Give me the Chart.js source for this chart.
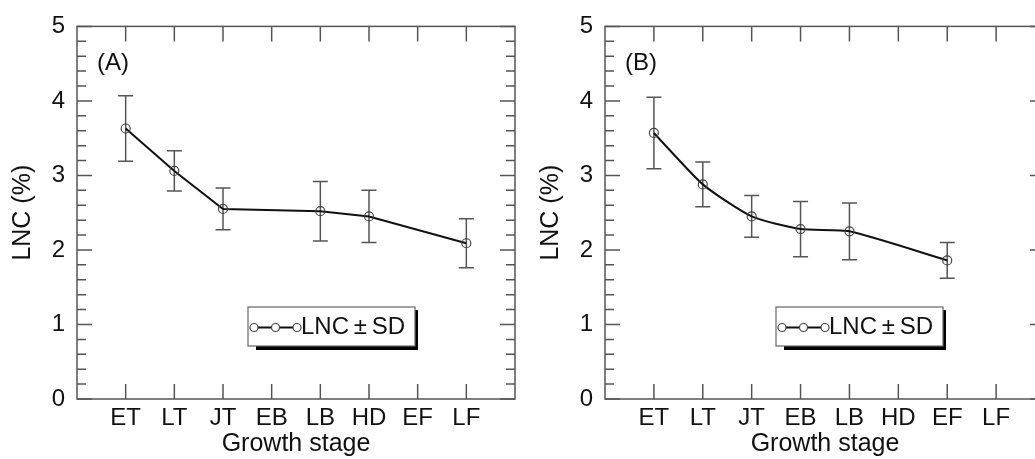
<!DOCTYPE html>
<html>
<head>
<meta charset="utf-8">
<script src="https://cdn.jsdelivr.net/npm/chart.js@4.4.1/dist/chart.umd.min.js"></script>
<style>
  html, body { margin:0; padding:0; background:#fff; overflow:hidden; width:1035px; height:459px; }
  .panel { position:absolute; top:0; height:459px; width:530px; }
  #pa { left:0; }
  #pb { left:528px; }
</style>
</head>
<body>
<div class="panel" id="pa"><canvas id="chartA"></canvas></div>
<div class="panel" id="pb"><canvas id="chartB"></canvas></div>
<script>
  // growth stages on the x axis
  const stages = ["ET", "LT", "JT", "EB", "LB", "HD", "EF", "LF"];
  const yTicks = [0, 1, 2, 3, 4, 5];

  // panel (A)
  const lncA = [3.63, 3.06, 2.55, null, 2.52, 2.45, null, 2.09];
  const sdA  = [0.44, 0.27, 0.28, null, 0.40, 0.35, null, 0.33];

  // panel (B)
  const lncB = [3.57, 2.88, 2.45, 2.28, 2.25, null, 1.86, null];
  const sdB  = [0.48, 0.30, 0.28, 0.37, 0.38, null, 0.24, null];

  const FONT = "'Liberation Sans', Arial, Helvetica, sans-serif";
  const LINE_GRAY = "#555";

  function toPoints(vals){
    const pts = [];
    vals.forEach((v, i) => { if(v != null) pts.push({ x: i + 1, y: v }); });
    return pts;
  }

  const panelPlugin = {
    id: "panel",
    beforeDatasetsDraw(chart, args, opts){
      const { ctx, scales: { x, y } } = chart;
      ctx.save();
      ctx.strokeStyle = LINE_GRAY;
      ctx.lineWidth = 1.5;
      opts.vals.forEach((v, i) => {
        if(v == null) return;
        const px = x.getPixelForValue(i + 1);
        const top = y.getPixelForValue(v + opts.sd[i]);
        const bot = y.getPixelForValue(v - opts.sd[i]);
        ctx.beginPath();
        ctx.moveTo(px, top); ctx.lineTo(px, bot);
        ctx.moveTo(px - 7.5, top); ctx.lineTo(px + 7.5, top);
        ctx.moveTo(px - 7.5, bot); ctx.lineTo(px + 7.5, bot);
        ctx.stroke();
      });
      ctx.restore();
    },
    afterDraw(chart, args, opts){
      const { ctx, chartArea: a, scales: { x, y } } = chart;
      ctx.save();
      ctx.strokeStyle = LINE_GRAY;
      ctx.lineWidth = 1.5;

      // frame
      ctx.strokeRect(a.left, a.top, a.right - a.left, a.bottom - a.top);

      // inward ticks (minor every 0.2)
      ctx.beginPath();
      for(let k = 0; k <= 25; k++){
        const py = y.getPixelForValue(k / 5);
        const len = (k % 5 === 0) ? 15 : 9;
        ctx.moveTo(a.left, py); ctx.lineTo(a.left + len, py);
        ctx.moveTo(a.right, py); ctx.lineTo(a.right - len, py);
      }
      stages.forEach((s, i) => {
        const px = x.getPixelForValue(i + 1);
        ctx.moveTo(px, a.bottom); ctx.lineTo(px, a.bottom - 15);
        ctx.moveTo(px, a.top); ctx.lineTo(px, a.top + 15);
      });
      ctx.stroke();

      // panel letter
      ctx.fillStyle = "#111";
      ctx.font = "24px " + FONT;
      ctx.textAlign = "left";
      ctx.textBaseline = "middle";
      ctx.fillText(opts.label, a.left + 20, 63);

      // legend box with shadow
      const bx = a.left + 171, by = 307, bw = 167, bh = 39;
      ctx.fillStyle = "#000";
      ctx.fillRect(bx + 8, by + 3, bw - 5, bh + 1);
      ctx.fillStyle = "#fff";
      ctx.fillRect(bx, by, bw, bh);
      ctx.strokeStyle = "#666";
      ctx.lineWidth = 1.2;
      ctx.strokeRect(bx, by, bw, bh);

      const cy = by + bh / 2 + 1;
      ctx.strokeStyle = "#111";
      ctx.lineWidth = 2;
      ctx.beginPath();
      ctx.moveTo(bx + 6, cy); ctx.lineTo(bx + 49, cy);
      ctx.stroke();
      ctx.strokeStyle = "#444";
      ctx.lineWidth = 1.2;
      [bx + 6, bx + 27.5, bx + 49].forEach(cx => {
        ctx.beginPath();
        ctx.arc(cx, cy, 4, 0, Math.PI * 2);
        ctx.fillStyle = "#fff";
        ctx.fill();
        ctx.stroke();
      });
      ctx.fillStyle = "#111";
      ctx.font = "24px " + FONT;
      ctx.textBaseline = "middle";
      ctx.fillText("LNC\u2009\u00B1\u2009SD", bx + 53, cy);

      ctx.restore();
    }
  };

  function makePanel(canvasId, vals, sd, label, rightPad, tension){
    return new Chart(document.getElementById(canvasId), {
      type: "line",
      data: {
        datasets: [{
          data: toPoints(vals),
          borderColor: "#111",
          borderWidth: 2,
          tension: tension,
          pointRadius: 4.5,
          pointBorderColor: "#444",
          pointBorderWidth: 1.2,
          pointBackgroundColor: "rgba(0,0,0,0)"
        }]
      },
      options: {
        responsive: true,
        maintainAspectRatio: false,
        animation: false,
        layout: { padding: { top: 20, right: rightPad, left: 0, bottom: 0 } },
        plugins: {
          legend: { display: false },
          tooltip: { enabled: false },
          panel: { vals, sd, label }
        },
        scales: {
          x: {
            type: "linear",
            min: 0, max: 9,
            grid: { display: false, drawTicks: false },
            border: { display: false },
            afterBuildTicks(scale){ scale.ticks = stages.map((s, i) => ({ value: i + 1 })); },
            afterFit(scale){ scale.height = 60; },
            ticks: {
              autoSkip: false, maxRotation: 0, padding: 5,
              color: "#111", font: { family: FONT, size: 24 },
              callback: v => stages[v - 1] || ""
            },
            title: {
              display: true, text: "Growth stage", color: "#111",
              font: { family: FONT, size: 25 }, padding: { top: 0, bottom: 0 }
            }
          },
          y: {
            type: "linear",
            min: 0, max: 5,
            grid: { display: false, drawTicks: false },
            border: { display: false },
            afterBuildTicks(scale){ scale.ticks = yTicks.map(v => ({ value: v })); },
            afterFit(scale){ scale.width = 77; },
            ticks: {
              padding: 12, color: "#111", font: { family: FONT, size: 24 }
            },
            title: {
              display: true, text: "LNC (%)", color: "#111",
              font: { family: FONT, size: 25 }, padding: { top: 8, bottom: 0 }
            }
          }
        }
      },
      plugins: [panelPlugin]
    });
  }

  makePanel("chartA", lncA, sdA, "(A)", 15, 0);
  makePanel("chartB", lncB, sdB, "(B)", 13, 0.2);
</script>
</body>
</html>
